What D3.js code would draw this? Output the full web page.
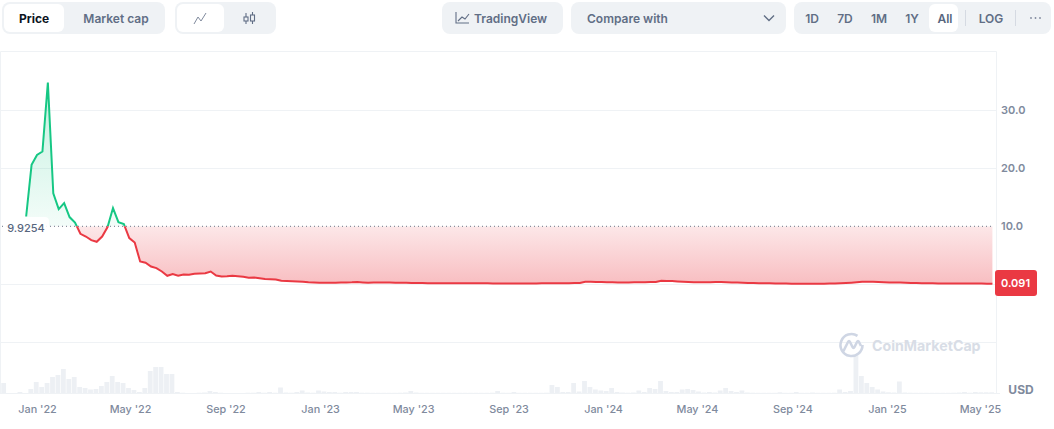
<!DOCTYPE html>
<html><head><meta charset="utf-8">
<script src="https://cdn.jsdelivr.net/npm/d3@7"></script>
<style>html,body{margin:0;padding:0;background:#fff}svg{display:block}text{font-family:Inter,"Noto Sans",sans-serif}</style>
</head><body><svg id="c" width="1054" height="429"></svg>
<script>
const prices=[11.69,20.6,22.3,22.9,34.8,15.7,12.97,14.0,11.59,10.66,8.71,8.24,7.62,7.33,8.24,9.86,13.14,10.72,10.38,7.97,7.2,3.93,3.71,3.07,2.79,2.21,1.47,1.76,1.47,
1.69,1.64,1.81,1.86,1.9,2.2,1.52,1.34,1.38,1.47,1.38,1.29,1.12,1.17,1.03,.9,.86,.83,.6,.55,.52,.47,.43,.34,.29,.26,.26,.26,.26,.29,.33,.34,.38,.33,.26,
.31,.31,.3,.29,.28,.27,.25,.24,.22,
.21,.2,.2,.19,.19,.18,.18,.18,.17,.17,.16,.16,.16,.15,.15,.15,.14,.14,
.14,.13,.12,.14,.16,.17,.18,.2,.2,.2,.21,.22,
.43,.42,.4,.38,.36,.35,.33,.32,
.33,.34,.35,.37,.39,.41,
.62,.58,.55,.5,.45,.4,
.34,.35,.36,.37,.38,.4,
.36,.32,.3,.27,.24,.22,
.2,.18,.16,.14,.13,.12,
.11,.1,.1,.1,.11,.1,.1,
.12,.15,.18,.22,.28,.34,.42,
.45,.42,.38,.35,.33,.31,.29,.27,
.24,.22,.2,.18,.16,.14,
.12,.12,.12,.12,.13,.13,.12,.12,.11,.091];
const volumes=[10,0,0,1,0,4,11,6,10,16,18,24,14,16,6,5,3.5,4,7,11,17,11,10,5,3,1,5,22,26,26,
19,19,1,.3,0,0,.3,.5,2,1,.3,0,0,0,0,.3,.3,1,.3,1,.3,5.5,.5,.3,1,2.5,.5,.3,2.5,1.5,
1,1,.3,1,1,1,.3,.3,.2,.2,.2,.2,.2,.3,.5,2,.5,.2,.2,.2,.2,.2,.2,.2,.2,.2,.2,.2,.2,.2,
.3,2,.3,.2,1,.2,.2,.2,.2,.2,.3,8,6,1,1,10,1.5,12,6,3.5,2.5,2,5,1,.5,.3,.5,2.5,1,5,
4,12,2,1,1,3.5,4,3,1.5,.5,1,.5,2.5,5,2,1,2.5,.5,.3,.2,.2,.2,.2,.7,.2,.2,1,.2,.2,.5,
.2,.2,.2,.3,3.5,1,2,38,17,10,6,3.5,1.5,.7,.5,11.5,.5,.3,.2,.2,.2,.2,.2,.2,.2,.3,.5,1,.3,1,.7,.7,.7];
const priceStart=new Date(2021,11,18), volumeStart=new Date(2021,10,19);
const xTickDates=[[2022,0],[2022,4],[2022,8],[2023,0],[2023,4],[2023,8],[2024,0],[2024,4],[2024,8],[2025,0],[2025,4]];
const xTickLabels=["Jan '22","May '22","Sep '22","Jan '23","May '23","Sep '23","Jan '24","May '24","Sep '24","Jan '25","May '25"];
const yTicks=[30,20,10];
const gridValues=[-10,0,20,30];
const basePrice=10, baseLabel="9.9254", lastLabel="0.091", unit="USD";
const tabsLeft=["Price","Market cap"], rangeTabs=["1D","7D","1M","1Y","All"];

const svg=d3.select("#c");
const x=d3.scaleTime().domain([new Date(2022,0,1),new Date(2025,4,1)]).range([37,980]);
const y=d3.scaleLinear().domain([0,30]).range([284.3,110.3]);
const vy=d3.scaleLinear().domain([0,38]).range([393,355]);
const pts=prices.map((v,i)=>({d:d3.timeDay.offset(priceStart,i*7),v}));
const bars=volumes.map((v,i)=>({d:d3.timeDay.offset(volumeStart,i*7),v}));
const G="#16c784",R="#ea3943",GR="#eff2f5";

const defs=svg.append("defs");
function grad(id,y1,y2,col,a,b){const g=defs.append("linearGradient").attr("id",id).attr("gradientUnits","userSpaceOnUse").attr("x1",0).attr("x2",0).attr("y1",y1).attr("y2",y2);
 g.append("stop").attr("offset",0).attr("stop-color",col).attr("stop-opacity",a);
 g.append("stop").attr("offset",1).attr("stop-color",col).attr("stop-opacity",b);}
grad("gG",y(34.8),y(basePrice),G,.26,.05);
grad("gR",y(basePrice),y(0),R,.12,.33);
defs.append("clipPath").attr("id","above").append("rect").attr("x",0).attr("y",0).attr("width",1054).attr("height",y(basePrice));
defs.append("clipPath").attr("id","below").append("rect").attr("x",0).attr("y",y(basePrice)).attr("width",1054).attr("height",200);
defs.append("clipPath").attr("id","plot").append("rect").attr("x",1).attr("y",51).attr("width",995).attr("height",342);

// frame and grid
svg.append("path").attr("d","M0.5 393V51.5H996.5V393").attr("fill","none").attr("stroke",GR);
svg.selectAll(".g").data(gridValues).join("line").attr("x1",1).attr("x2",996).attr("y1",d=>Math.round(y(d))+.5).attr("y2",d=>Math.round(y(d))+.5).attr("stroke",GR);
svg.append("line").attr("x1",0).attr("x2",1000).attr("y1",393.5).attr("y2",393.5).attr("stroke",GR);

// volume
svg.append("g").attr("clip-path","url(#plot)").selectAll("rect").data(bars).join("rect")
 .attr("x",d=>x(d.d)-2.4).attr("width",4.8).attr("y",d=>vy(d.v)).attr("height",d=>393-vy(d.v)).attr("fill","#edf0f4");

// areas + lines
const area=d3.area().x(d=>x(d.d)).y0(y(basePrice)).y1(d=>y(d.v));
const line=d3.line().x(d=>x(d.d)).y(d=>y(d.v));
svg.append("path").datum(pts).attr("d",area).attr("fill","url(#gG)").attr("clip-path","url(#above)");
svg.append("path").datum(pts).attr("d",area).attr("fill","url(#gR)").attr("clip-path","url(#below)");
svg.append("line").attr("x1",2).attr("x2",993).attr("y1",y(basePrice)).attr("y2",y(basePrice)).attr("stroke","#6b7688").attr("stroke-width",1).attr("stroke-dasharray","1 3");
svg.append("path").datum(pts).attr("d",line).attr("fill","none").attr("stroke",G).attr("stroke-width",2).attr("clip-path","url(#above)");
svg.append("path").datum(pts).attr("d",line).attr("fill","none").attr("stroke",R).attr("stroke-width",2).attr("clip-path","url(#below)");

// base label
svg.append("rect").attr("x",5).attr("y",217).attr("width",44).attr("height",19).attr("rx",4).attr("fill","#fff").attr("fill-opacity",.9);
svg.append("text").attr("x",26).attr("y",232).attr("text-anchor","middle").attr("font-size",11).attr("font-weight",500).attr("fill","#58667e").text(baseLabel);

// axes
const ax=svg.append("g").attr("transform","translate(0,393)").call(d3.axisBottom(x).tickValues(xTickDates.map(d=>new Date(d[0],d[1],1))).tickSize(0).tickPadding(12).tickFormat((d,i)=>xTickLabels[i]));
ax.select(".domain").remove();
ax.selectAll("text").attr("font-size",10.8).attr("font-weight",500).attr("fill","#808a9d").style("font-family","Inter");
const ay=svg.append("g").attr("transform","translate(1001,0)").call(d3.axisRight(y).tickValues(yTicks).tickSize(0).tickPadding(0).tickFormat(d3.format(".1f")));
ay.select(".domain").remove();
ay.selectAll("text").attr("font-size",11).attr("font-weight",600).attr("fill","#808a9d").style("font-family","Inter");

// last price tag
svg.append("rect").attr("x",995).attr("y",270).attr("width",42).attr("height",26).attr("rx",3).attr("fill",R);
svg.append("text").attr("x",1015.5).attr("y",287).attr("text-anchor","middle").attr("font-size",11).attr("font-weight",600).attr("fill","#fff").text(lastLabel);
svg.append("text").attr("x",1021).attr("y",394).attr("text-anchor","middle").attr("font-size",12).attr("font-weight",700).attr("fill","#808a9d").text(unit);

// watermark
const wm=svg.append("g").attr("fill","none").attr("stroke","#cfd6e4").attr("stroke-width",2.6);
wm.append("path").attr("d","M862.5 345a11 11 0 1 1 -5 -9.2M843.5 351l4.5 -9q1 -2 2 0l2.5 5q1 2 2 0l2.5 -5q1 -2 2 0l2 4");
svg.append("text").attr("x",872).attr("y",351).attr("font-size",14.2).attr("font-weight",700).attr("fill","#d8dde6").text("CoinMarketCap");

// controls
function box(x0,x1,fill,y0=2,y1=34,r=8){svg.append("rect").attr("x",x0).attr("y",y0).attr("width",x1-x0).attr("height",y1-y0).attr("rx",r).attr("fill",fill);}
function lab(t,cx,col,w=600,cy=22.5,a="middle"){svg.append("text").attr("x",cx).attr("y",cy).attr("text-anchor",a).attr("font-size",12).attr("font-weight",w).attr("fill",col).text(t);}
box(2,165,GR);box(4,64,"#fff",4,32,6);
lab(tabsLeft[0],34,"#0d1421",700);lab(tabsLeft[1],116,"#616e85");
box(175,276,GR);box(177,224,"#fff",4,32,6);
svg.append("path").attr("d","M194 24l4-7 3 4 5-8").attr("fill","none").attr("stroke","#808a9d").attr("stroke-width",1);
const ic=svg.append("g").attr("fill","none").attr("stroke","#616e85").attr("stroke-width",1.1);
ic.append("path").attr("d","M246 13v11M252.5 12v12");
ic.append("rect").attr("x",244).attr("y",17).attr("width",4).attr("height",4).attr("fill","#eff2f5");
ic.append("rect").attr("x",250.5).attr("y",15).attr("width",4).attr("height",6).attr("fill","#eff2f5");
box(442,563,GR);
svg.append("path").attr("d","M456 12v11h13M458 21l4-4 3 2 4-5").attr("fill","none").attr("stroke","#616e85").attr("stroke-width",1.1);
lab("TradingView",474,"#616e85",600,22.5,"start");
box(571,786,GR);lab("Compare with",587,"#616e85",600,22.5,"start");
svg.append("path").attr("d","M764 15.5l5 5 5-5").attr("fill","none").attr("stroke","#616e85").attr("stroke-width",1.4);
box(794,1051,GR);box(929,958,"#fff",4,32,6);
[812,845,879,912,945].forEach((cx,i)=>lab(rangeTabs[i],cx,i==4?"#58667e":"#616e85"));
lab("LOG",991,"#616e85");
svg.selectAll(".dv").data([965,1015]).join("line").attr("x1",d=>d+.5).attr("x2",d=>d+.5).attr("y1",10).attr("y2",26).attr("stroke","#d5dae2");
svg.selectAll(".dt").data([1031,1035.5,1040]).join("circle").attr("cx",d=>d).attr("cy",18).attr("r",.9).attr("fill","#808a9d");
</script></body></html>
